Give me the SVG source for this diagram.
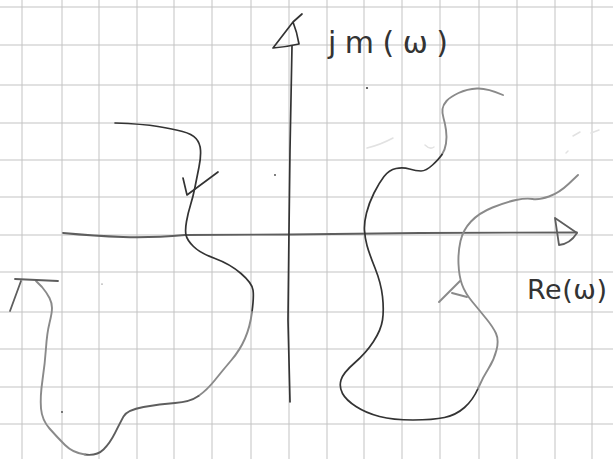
<svg xmlns="http://www.w3.org/2000/svg" width="613" height="459" viewBox="0 0 613 459">
<style>
.grid line{stroke:#c3c3c3;stroke-width:1}
.pen{fill:none;stroke-linecap:round;stroke-linejoin:round}
.dark{stroke:#333;stroke-width:1.7}
.mid{stroke:#5e5e5e;stroke-width:1.8}
.light{stroke:#8a8a8a;stroke-width:1.9}
.faint{stroke:#e2e2e2;stroke-width:1.5}
.lbl{font-family:"DejaVu Sans","Liberation Sans",sans-serif;fill:#333}
</style>
<rect width="613" height="459" fill="#fff"/>
<g id="grid" class="grid">
<line x1="22" y1="0" x2="22" y2="459"/><line x1="62" y1="0" x2="62" y2="459"/><line x1="99" y1="0" x2="99" y2="459"/><line x1="137" y1="0" x2="137" y2="459"/><line x1="174" y1="0" x2="174" y2="459"/><line x1="212" y1="0" x2="212" y2="459"/><line x1="251" y1="0" x2="251" y2="459"/><line x1="289" y1="0" x2="289" y2="459"/><line x1="327" y1="0" x2="327" y2="459"/><line x1="364" y1="0" x2="364" y2="459"/><line x1="402" y1="0" x2="402" y2="459"/><line x1="440" y1="0" x2="440" y2="459"/><line x1="479" y1="0" x2="479" y2="459"/><line x1="517" y1="0" x2="517" y2="459"/><line x1="555" y1="0" x2="555" y2="459"/><line x1="592" y1="0" x2="592" y2="459"/>
<line x1="0" y1="7" x2="613" y2="7"/><line x1="0" y1="45" x2="613" y2="45"/><line x1="0" y1="85" x2="613" y2="85"/><line x1="0" y1="123" x2="613" y2="123"/><line x1="0" y1="160" x2="613" y2="160"/><line x1="0" y1="197" x2="613" y2="197"/><line x1="0" y1="235" x2="613" y2="235"/><line x1="0" y1="272" x2="613" y2="272"/><line x1="0" y1="312" x2="613" y2="312"/><line x1="0" y1="349" x2="613" y2="349"/><line x1="0" y1="387" x2="613" y2="387"/><line x1="0" y1="424" x2="613" y2="424"/>
</g>
<g id="faint-marks" class="pen faint">
<path d="M367,148 Q380,145 393,138"/><path d="M425,145 Q430,150 434,147"/><path d="M573,136 L580,132"/><path d="M591,133 L599,130"/><path d="M566,153 L568,151"/>
</g>
<g id="specks" fill="#444">
<circle cx="367" cy="88" r="1.1"/><circle cx="275" cy="175" r="0.9"/><circle cx="62" cy="412" r="0.9"/><circle cx="102" cy="284" r="0.6"/>
</g>
<g id="axes" class="pen">
<path class="mid" d="M63,233 Q95,236 123,237 T185,235 L290,234.5 L420,233 L577,232.5"/>
<path class="mid" d="M555,218 L577,233 Q570,244 559,245 L555,218"/>
<path class="dark" d="M292,46 L290,150 L289,230 L288,320 L290,402"/>
<path class="dark" d="M302,14 L293,22 L273,48 Q286,47 299,44 Q297,32 293,22"/>
</g>
<g id="left-curve" class="pen">
<path class="dark" d="M115,123 Q143,124 158,126.5 Q173,129 182.5,131.5 Q192,134 196,138.5 Q200,143 200.5,150 Q201,157 199,167 Q197,177 195,187 Q193,197 190.5,205 Q188,213 186.5,221.5 Q185,230 186,235 Q187,240 193.5,246.5 Q200,253 215,258.5 Q230,264 241,273.5 Q252,283 253,290 Q254,297 252,312"/>
<path class="light" d="M252,312 Q250,327 245,338.5 Q240,350 231.5,360 Q223,370 215,380 Q207,390 198.5,396"/>
<path class="mid" d="M198.5,396 Q190,402 175,403 Q160,404 143.5,407 Q127,410 123.5,416.5 Q120,423 115,433 Q110,443 103.5,449.5 Q97,456 85,454.5"/>
<path class="light" d="M85,454.5 Q73,453 65,445 Q57,437 49.5,428.5 Q42,420 41,408.5 Q40,397 42.5,380 Q45,363 46,348 Q47,333 49.5,323 Q52,313 52,308 Q52,303 49.5,298 Q47,293 42,287 L36,281"/>
<path class="dark" d="M183,178 L187,195 L218,172"/>
<path class="mid" d="M15,279 L58,281"/>
<path class="mid" d="M21,281 L10,311"/>
</g>
<g id="right-curve" class="pen">
<path class="light" d="M503,95 Q487,88 477,88.5 Q467,89 458.5,93 Q450,97 446.5,101 Q443,105 442.5,109 Q442,113 443.5,118 Q445,123 446,130 Q447,137 446,143.5 Q445,150 442,154.5"/>
<path class="dark" d="M442,154.5 Q439,159 432.5,165 Q426,171 421,171 Q416,171 409.5,169 Q403,167 396,168.5 Q389,170 384,176.5 Q379,183 374,193 Q369,203 366.5,213 Q364,223 364.5,230.5 Q365,238 367,245.5 Q369,253 375,268 Q381,283 382.5,296.5 Q384,310 382.5,320 Q381,330 373.5,341.5 Q366,353 354.5,363 Q343,373 341,380 Q339,387 342.5,393.5 Q346,400 356,406.5 Q366,413 379.5,416.5 Q393,420 413,420 Q433,420 444.5,417.5 Q456,415 464.5,407.5 Q473,400 478,388.5"/>
<path class="light" d="M478,388.5 Q483,377 488.5,368.5 Q494,360 496.5,350 Q499,340 496,333.5 Q493,327 486.5,319 Q480,311 472.5,302 Q465,293 462,284.5 Q459,276 458.5,264 Q458,252 460.5,241 Q463,230 471,221.5 Q479,213 492.5,207.5 Q506,202 516,200 Q526,198 532.5,199 Q539,200 549,196.5 Q559,193 568.5,184 L578,175"/>
<path class="light" d="M439,302 L460,281"/>
<path class="light" d="M452,293 L467,297"/>
</g>
<g id="labels">
<text class="lbl" x="328" y="53" font-size="30" textLength="120" lengthAdjust="spacing">jm(ω)</text>
<text class="lbl" x="527" y="299" font-size="27" textLength="80" lengthAdjust="spacing">Re(ω)</text>
</g>
</svg>
